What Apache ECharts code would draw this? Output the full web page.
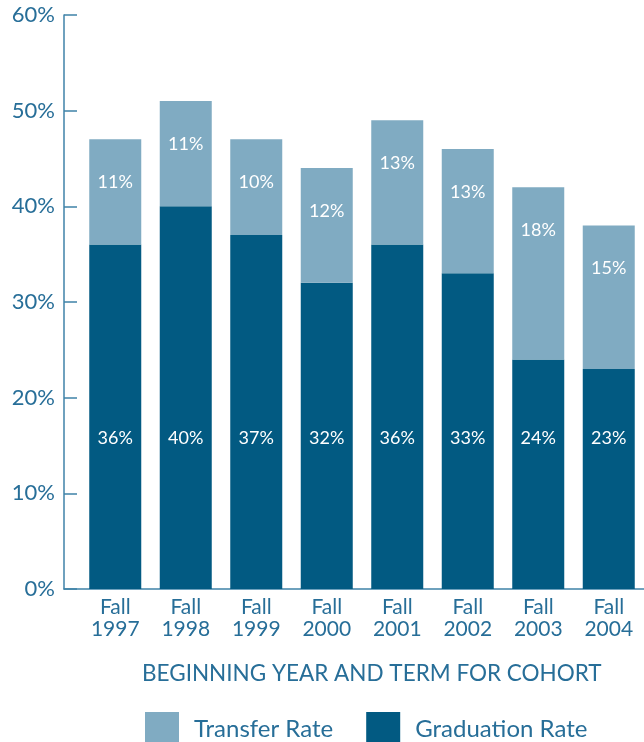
<!DOCTYPE html>
<html><head><meta charset="utf-8">
<script src="https://cdn.jsdelivr.net/npm/echarts@6/dist/echarts.min.js"></script>
<style>html,body{margin:0;padding:0;background:#fff}#c{width:644px;height:742px}</style>
</head><body><div id="c"></div>
<script>
const categories = ['Fall\n1997','Fall\n1998','Fall\n1999','Fall\n2000','Fall\n2001','Fall\n2002','Fall\n2003','Fall\n2004'];
const graduationRate = [36, 40, 37, 32, 36, 33, 24, 23];
const transferRate = [11, 11, 10, 12, 13, 13, 18, 15];
const yTicks = [0, 10, 20, 30, 40, 50, 60];

const DARK = '#025a82', LIGHT = '#80abc2', TXT = '#276e98', AX = '#3f82a8';
const FONT = 'Lato, "Open Sans", sans-serif';
const chart = echarts.init(document.getElementById('c'));
chart.setOption({
  animation: false,
  textStyle: { fontFamily: FONT },
  title: {
    text: 'BEGINNING YEAR AND TERM FOR COHORT',
    left: 137, top: 657,
    textStyle: { color: TXT, fontSize: 22.5, fontWeight: 'normal', fontFamily: FONT }
  },
  legend: {
    left: 140, top: 707,
    itemWidth: 34, itemHeight: 35, itemGap: 33,
    icon: 'rect',
    data: ['Transfer Rate', 'Graduation Rate'],
    textStyle: { color: TXT, fontSize: 24, fontFamily: FONT, padding: [0, 0, 0, 10] }
  },
  grid: [
    { left: 80, top: 15, width: 572, bottom: 153 },
    { left: 64, top: 15, width: 590, bottom: 153 }
  ],
  xAxis: [
    {
      type: 'category', data: categories, gridIndex: 0,
      axisLine: { show: false }, axisTick: { show: false },
      axisLabel: { color: TXT, fontSize: 21, lineHeight: 22, margin: 7, fontFamily: FONT }
    },
    {
      type: 'value', gridIndex: 1, min: 0, max: 1,
      axisLine: { show: true, lineStyle: { color: AX, width: 1.5 } },
      axisTick: { show: false }, axisLabel: { show: false }, splitLine: { show: false }
    }
  ],
  yAxis: [
    {
      type: 'value', gridIndex: 0, min: yTicks[0], max: yTicks[yTicks.length - 1], interval: 10, offset: 16,
      axisLine: { show: true, lineStyle: { color: AX, width: 1.5 } },
      axisTick: { show: true, inside: true, length: 13, lineStyle: { color: AX, width: 1.5 } },
      splitLine: { show: false },
      axisLabel: { color: TXT, fontSize: 22, margin: 9, formatter: v => v + '%', fontFamily: FONT }
    },
    {
      type: 'value', gridIndex: 1, min: 0, max: 1, show: false
    }
  ],
  series: [
    {
      name: 'Graduation Rate', type: 'bar', stack: 'a', barWidth: 52,
      xAxisIndex: 0, yAxisIndex: 0,
      itemStyle: { color: DARK },
      data: graduationRate,
      label: { show: true, position: 'insideBottom', distance: 142, color: '#fff', fontSize: 18, fontFamily: FONT, formatter: p => p.value + '%' }
    },
    {
      name: 'Transfer Rate', type: 'bar', stack: 'a', barWidth: 52,
      xAxisIndex: 0, yAxisIndex: 0,
      itemStyle: { color: LIGHT },
      data: transferRate,
      label: { show: true, position: 'insideTop', distance: 34, color: '#fff', fontSize: 18, fontFamily: FONT, formatter: p => p.value + '%' }
    }
  ]
});
</script></body></html>
